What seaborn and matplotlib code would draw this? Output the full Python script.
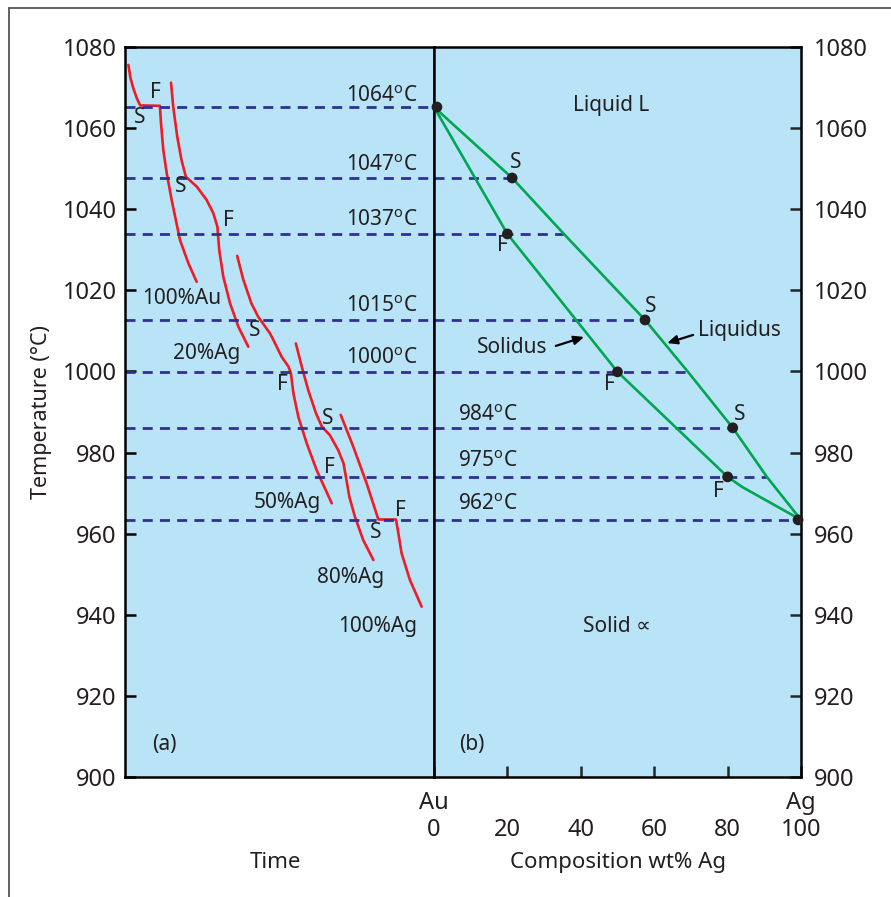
import matplotlib
matplotlib.use("Agg")
import matplotlib.pyplot as plt
from matplotlib.lines import Line2D
import seaborn as sns
import pandas as pd

# ---------------- data ----------------
# cooling curves (time in arbitrary units 0-100, temperature in °C)
au100_t = [1.1, 1.8, 2.7, 3.8, 4.9, 11.3, 11.65, 12.4, 13.5, 15.1, 17.8, 20.5, 23.2]
au100_T = [1075.6, 1072.3, 1069.8, 1067.4, 1065.6, 1065.5, 1061.2, 1054.6, 1048.9, 1042.3,
           1032.4, 1026.7, 1022.1]
ag20_t = [14.9, 15.6, 16.9, 18.3, 19.7, 23.2, 26.4, 28.6, 29.9, 30.5, 31.8, 34.0, 36.7, 39.9]
ag20_T = [1071.2, 1065.3, 1057.9, 1052.1, 1048.0, 1045.6, 1042.3, 1039.0, 1035.7, 1029.9,
          1023.4, 1016.8, 1011.0, 1006.1]
ag50_t = [36.3, 38.3, 40.9, 43.1, 46.9, 48.0, 50.7, 52.9, 53.7, 54.5, 56.1, 58.8, 62.0, 66.9]
ag50_T = [1028.5, 1022.6, 1016.8, 1013.5, 1009.4, 1007.8, 1003.6, 1001.2, 999.5, 994.6,
          988.8, 982.3, 975.7, 967.5]
ag80_t = [55.3, 57.2, 59.3, 61.8, 63.7, 66.3, 69.0, 70.7, 71.5, 72.6, 74.4, 77.1, 80.4]
ag80_T = [1006.9, 1001.2, 995.4, 989.7, 986.4, 984.3, 980.6, 977.4, 974.0, 969.1, 964.2,
          958.4, 953.5]
ag100_t = [69.8, 73.9, 78.2, 82.0, 87.7, 88.3, 89.5, 92.2, 96.0]
ag100_T = [989.3, 981.4, 972.4, 963.5, 963.5, 960.9, 955.2, 948.6, 942.0]

curve_names = ["100%Au", "20%Ag", "50%Ag", "80%Ag", "100%Ag"]

# phase diagram
liquidus_x = [0, 21.3, 35.4, 57.5, 69.2, 81.4, 90.7, 100]
liquidus_T = [1065.2, 1047.7, 1033.9, 1012.7, 999.9, 986.1, 974.0, 963.4]
solidus_x = [0, 20, 50, 66, 80, 84, 100]
solidus_T = [1065.2, 1033.9, 999.9, 986.1, 974.0, 971.5, 963.4]

# isotherms (drawn positions) and their labels
iso_T = [1065.2, 1047.7, 1033.9, 1012.7, 999.9, 986.1, 974.0, 963.4]
iso_labels = ["1064", "1047", "1037", "1015", "1000", "984", "975", "962"]
iso_end_x = [0.8, 21.3, 35.4, 57.5, 69.2, 81.4, 90.7, 100]  # isotherms end on the liquidus

# S/F points on phase diagram
pts_x = [0.8, 21.3, 20, 57.5, 50, 81.4, 80, 99.2]
pts_T = [1065.2, 1047.7, 1033.9, 1012.7, 999.9, 986.1, 974.0, 963.4]

y_ticks = [900, 920, 940, 960, 980, 1000, 1020, 1040, 1060, 1080]
x_ticks = [0, 20, 40, 60, 80, 100]
x_ticklabels = ["Au\n0", "\n20", "\n40", "\n60", "\n80", "Ag\n100"]

# ---------------- style ----------------
sns.set_theme(style="white")
plt.rcParams["font.family"] = ["Noto Sans", "DejaVu Sans"]
plt.rcParams["mathtext.fontset"] = "custom"
plt.rcParams["mathtext.rm"] = "Noto Sans"
plt.rcParams["mathtext.it"] = "Noto Sans"

BG = "#b9e4f7"
RED = "#ee1c25"
GREEN = "#00a651"
NAVY = "#2e3192"
TXT = "#231f20"
FS_IN = 15

W, H = 891, 897
fig = plt.figure(figsize=(W / 100, H / 100), dpi=100)
fig.patch.set_facecolor("white")

axL = fig.add_axes([125 / W, 1 - 777 / H, 309 / W, 730 / H])
axR = fig.add_axes([434 / W, 1 - 777 / H, 367 / W, 730 / H])

for ax in (axL, axR):
    ax.set_facecolor(BG)
    ax.set_ylim(900, 1080)
    ax.set_xlim(0, 100)
    for s in ax.spines.values():
        s.set_color("black")
        s.set_linewidth(1.8)
        s.set_visible(True)

# ---------------- panel (a) ----------------
curves = [(au100_t, au100_T), (ag20_t, ag20_T), (ag50_t, ag50_T),
          (ag80_t, ag80_T), (ag100_t, ag100_T)]
for name, (t, T) in zip(curve_names, curves):
    df = pd.DataFrame({"t": t, "T": T})
    sns.lineplot(data=df, x="t", y="T", ax=axL, sort=False, color=RED,
                 lw=1.9, estimator=None)

for T in iso_T:
    axL.axhline(T, color=NAVY, lw=2.0, dashes=(3.6, 2.6))

left_label_T = [1066.4, 1049.4, 1035.9, 1014.7, 1001.8]
for lab, yb in zip(iso_labels[:5], left_label_T):
    axL.text(94.9, yb, lab + r"$^{\rm o}$C", ha="right", va="baseline",
             fontsize=FS_IN, color=TXT)

txt_a = [("F", 9.7, 1068.7), ("S", 4.9, 1062.7), ("S", 18.1, 1045.5),
         ("F", 33.3, 1037.3), ("100%Au", 18.4, 1017.9), ("S", 42.1, 1010.2),
         ("20%Ag", 26.5, 1004.5), ("F", 50.8, 996.9), ("S", 65.7, 988.5),
         ("F", 66.3, 976.4), ("50%Ag", 52.4, 967.6), ("F", 89.0, 965.6),
         ("S", 81.2, 960.4), ("80%Ag", 73.1, 949.3), ("100%Ag", 81.9, 937.0),
         ("(a)", 12.9, 907.9)]
for s, x, y in txt_a:
    axL.text(x, y, s, ha="center", va="center", fontsize=FS_IN, color=TXT)

axL.set_yticks(y_ticks)
axL.set_xticks([])
axL.tick_params(axis="y", direction="in", length=8, width=1.8, pad=6,
                labelsize=17, colors="black", labelcolor=TXT, left=True, right=False)
axL.set_ylabel("Temperature (°C)", fontsize=15.5, color=TXT, labelpad=8)
axL.set_xlabel("")

# ---------------- panel (b) ----------------
for T, xe in zip(iso_T, iso_end_x):
    axR.plot([0, xe], [T, T], color=NAVY, lw=2.0, dashes=(3.6, 2.6))

sns.lineplot(x=liquidus_x, y=liquidus_T, ax=axR, sort=False, color=GREEN,
             lw=1.9, estimator=None)
sns.lineplot(x=solidus_x, y=solidus_T, ax=axR, sort=False, color=GREEN,
             lw=1.9, estimator=None)
sns.scatterplot(x=pts_x, y=pts_T, ax=axR, color=TXT, s=60, edgecolor="none",
                zorder=5, clip_on=False)

right_iso = [(5, 987.9), (6, 976.4), (7, 965.8)]
for i, yb in right_iso:
    axR.text(6.5, yb, iso_labels[i] + r"$^{\rm o}$C", ha="left", va="baseline",
             fontsize=FS_IN, color=TXT)

txt_b = [("Liquid L", 48.2, 1065.5), ("Solid \u221d", 49.9, 937.0),
         ("(b)", 10.4, 907.9), ("S", 22.3, 1051.4), ("F", 18.5, 1031.0),
         ("S", 59.1, 1016.1), ("F", 47.7, 996.7), ("S", 83.4, 989.5),
         ("F", 77.4, 970.3), ("Solidus", 21.3, 1006.0)]
for s, x, y in txt_b:
    axR.text(x, y, s, ha="center", va="center", fontsize=FS_IN, color=TXT)
axR.text(71.9, 1010.0, "Liquidus", ha="left", va="center", fontsize=FS_IN, color=TXT)

arrow = dict(arrowstyle="-|>,head_length=0.5,head_width=0.22", color="black", lw=1.6,
             shrinkA=0, shrinkB=0)
axR.annotate("", xy=(40.9, 1008.5), xytext=(33.2, 1006.3), arrowprops=arrow)
axR.annotate("", xy=(63.5, 1007.0), xytext=(70.6, 1009.0), arrowprops=arrow)

axR.set_yticks(y_ticks)
axR.yaxis.tick_right()
axR.tick_params(axis="y", direction="in", length=8, width=1.8, pad=9,
                labelsize=17, labelcolor=TXT, left=False, right=True,
                labelleft=False, labelright=True)
axR.set_xticks(x_ticks)
axR.set_xticklabels(x_ticklabels, linespacing=1.2)
axR.tick_params(axis="x", direction="in", length=8, width=1.8, pad=10,
                labelsize=17, labelcolor=TXT, bottom=True)
axR.set_xlabel("")
axR.set_ylabel("")

# axis titles below the panels
fig.text(275 / W, 1 - 862 / H, "Time", ha="center", va="center", fontsize=16, color=TXT)
fig.text(618 / W, 1 - 862 / H, "Composition wt% Ag", ha="center", va="center",
         fontsize=16, color=TXT)

# figure frame
fig.add_artist(Line2D([8.5 / W, 8.5 / W], [0, 1 - 8.5 / H], color="#555555", lw=1.3,
                      transform=fig.transFigure))
fig.add_artist(Line2D([8.5 / W, 1], [1 - 8.5 / H, 1 - 8.5 / H], color="#555555", lw=1.3,
                      transform=fig.transFigure))

fig.savefig("out.png", dpi=100, facecolor="white")
